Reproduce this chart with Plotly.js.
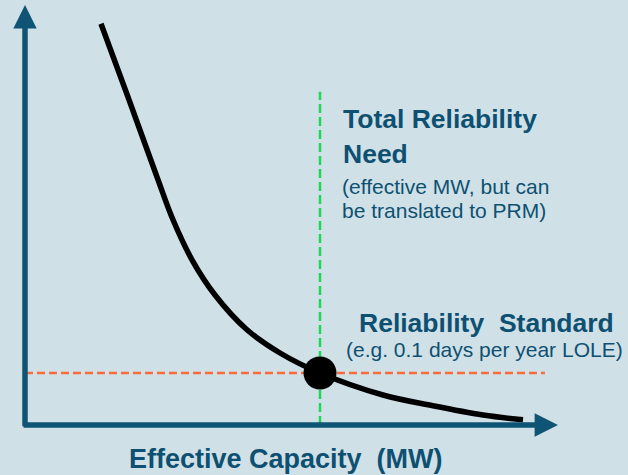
<!DOCTYPE html>
<html>
<head>
<meta charset="utf-8">
<script src="https://cdn.plot.ly/plotly-3.0.1.min.js"></script>
<style>html,body{margin:0;padding:0;background:#d0e0e7;}#chart{width:628px;height:475px;}</style>
</head>
<body>
<div id="chart"></div>
<script>
// Curve: effective capacity (arbitrary units) vs. LOLE (arbitrary units)
const capacity = [1.52, 2.08, 2.66, 2.96, 3.34, 3.80, 4.44, 5.10, 5.90, 7.16, 8.16, 9.16, 9.96];
const lole     = [10.03, 8.13, 6.13, 5.13, 4.13, 3.25, 2.38, 1.80, 1.30, 0.75, 0.48, 0.25, 0.13];
const needX = [5.9];          // total reliability need (capacity)
const standardY = [1.3];      // reliability standard (LOLE)
const needLineTop = 8.33;
const standardLineEnd = 10.4;
const xAxisEnd = 10.66;
const yAxisEnd = 10.5;

const textColor = '#0e5071';
const axisColor = '#0f5474';
const fontFam = '"Liberation Sans", Arial, sans-serif';

const traces = [
  {x: [needX[0], needX[0]], y: [0, needLineTop], mode: 'lines',
   line: {color: '#21d45a', width: 2.5, dash: '9px,4px'}, hoverinfo: 'skip'},
  {x: [0, standardLineEnd], y: [standardY[0], standardY[0]], mode: 'lines',
   line: {color: '#fb6b3d', width: 2.5, dash: '8px,4px'}, hoverinfo: 'skip'},
  {x: capacity, y: lole, mode: 'lines', line: {color: '#000', width: 5.5, shape: 'spline', smoothing: 1}, hoverinfo: 'skip'},
  {x: needX, y: standardY, mode: 'markers', marker: {color: '#000', size: 33}, hoverinfo: 'skip'}
];

function px2paperX(p){ return p/628; }
function px2paperY(p){ return 1 - p/475; }
function txt(text, xpx, ypx, size, anchor){
  return {text: text, xref: 'paper', yref: 'paper', x: px2paperX(xpx), y: px2paperY(ypx),
    xanchor: anchor, yanchor: 'middle', showarrow: false,
    font: {family: fontFam, size: size, color: textColor}};
}

const annotations = [
  // axes arrows
  {x: 0, y: yAxisEnd, ax: 0, ay: -0.07, xref: 'x', yref: 'y', axref: 'x', ayref: 'y',
   showarrow: true, arrowhead: 2, arrowsize: 0.85, arrowwidth: 5.5, arrowcolor: axisColor, text: '', standoff: 0},
  {x: xAxisEnd, y: 0, ax: -0.06, ay: 0, xref: 'x', yref: 'y', axref: 'x', ayref: 'y',
   showarrow: true, arrowhead: 2, arrowsize: 0.85, arrowwidth: 5.5, arrowcolor: axisColor, text: '', standoff: 0},
  txt('<b>Total Reliability</b>', 341, 119, 26.5, 'left'),
  txt('<b>Need</b>', 341, 154, 26.5, 'left'),
  txt('(effective MW, but can', 340, 186, 21, 'left'),
  txt('be translated to PRM)', 340, 210, 21, 'left'),
  txt('<b>Reliability\u00a0 Standard</b>', 486, 323, 26.5, 'center'),
  txt('(e.g. 0.1 days per year LOLE)', 484, 349, 21, 'center'),
  txt('<b>Effective Capacity\u00a0 (MW)</b>', 286, 459, 27, 'center')
];

const layout = {
  width: 628, height: 475,
  margin: {l: 0, r: 0, t: 0, b: 0},
  paper_bgcolor: '#d0e0e7', plot_bgcolor: '#d0e0e7',
  showlegend: false,
  xaxis: {range: [-0.5, 12.06], visible: false, fixedrange: true},
  yaxis: {range: [-1.25, 10.625], visible: false, fixedrange: true},
  annotations: annotations
};

Plotly.newPlot('chart', traces, layout, {displayModeBar: false, staticPlot: true});
</script>
</body>
</html>
